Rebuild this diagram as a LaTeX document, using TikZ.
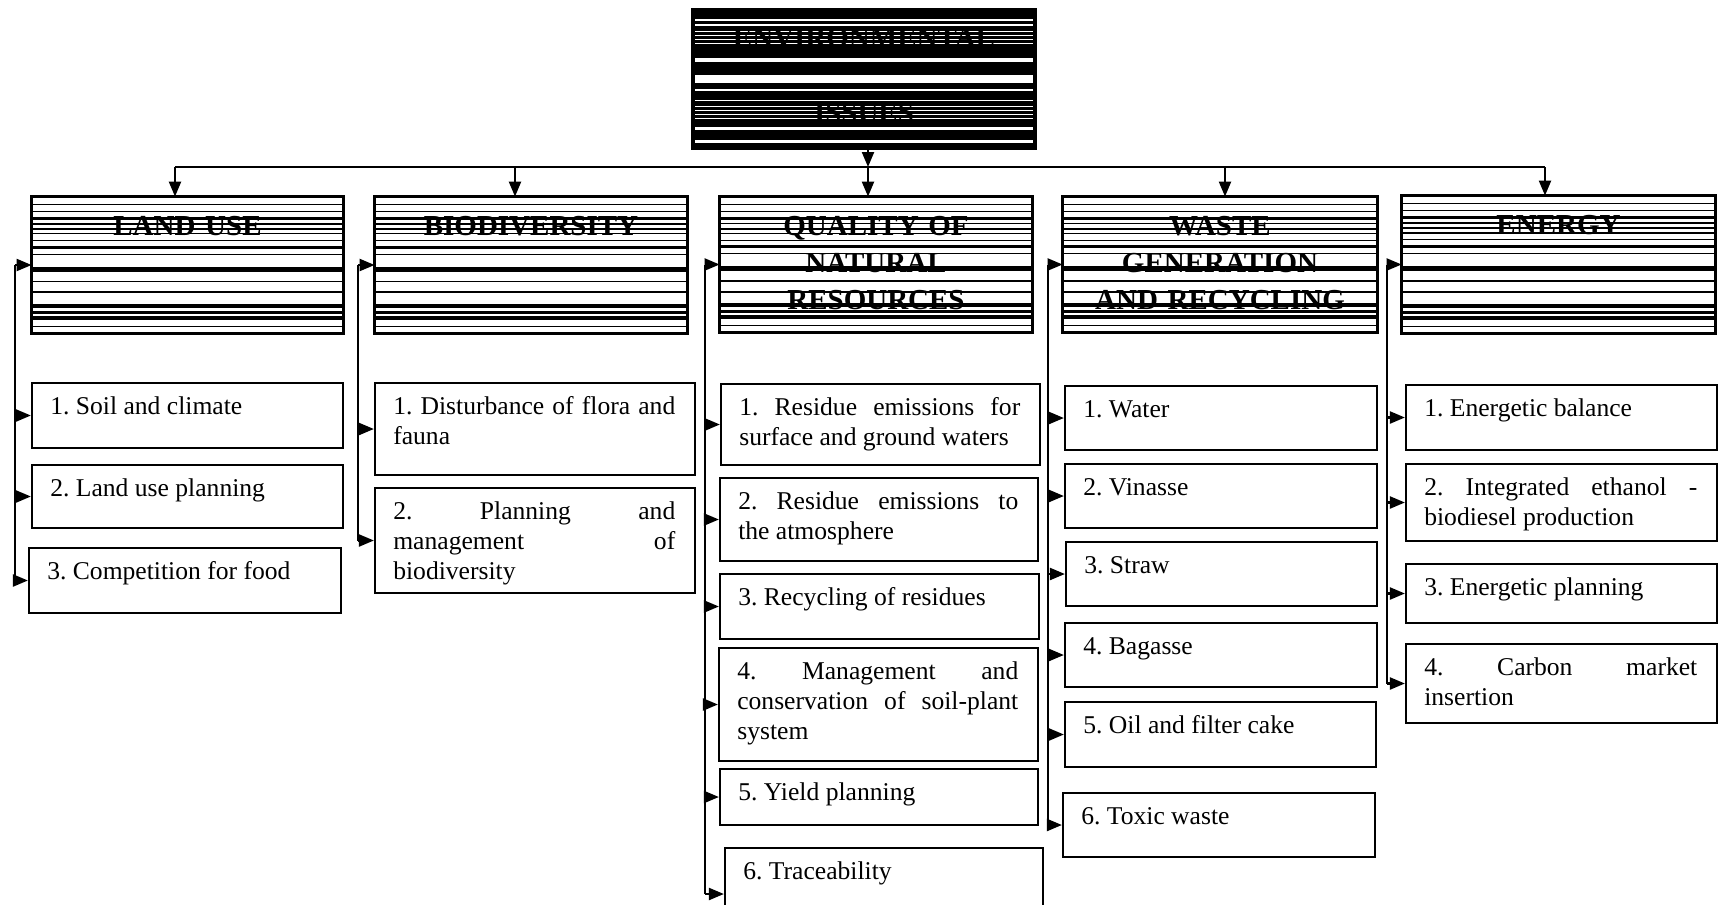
\documentclass[tikz,border=0pt]{standalone}
\usepackage{fontspec}
\setmainfont{Liberation Serif}
\usetikzlibrary{arrows.meta,fit,calc}
\hyphenpenalty=10000
\exhyphenpenalty=10000
\frenchspacing
\tikzset{
  itembox/.style={draw=black, line width=1.1pt, inner sep=0pt},
  itemtext/.style={inner sep=0pt, align=justify, font=\fontsize{12.8pt}{15pt}\selectfont\frenchspacing, anchor=base west},
  hdrtext/.style={inner sep=0pt, align=center, text width=160pt, font=\fontsize{14.5pt}{18.5pt}\selectfont\bfseries, anchor=base},
  conn/.style={line width=1.1pt},
  arr/.style={line width=1.1pt, -{Triangle[length=7.5pt,width=6pt]}},
}
\newcommand\hstripelist{0.06/0.5,0.11/0.7,0.16/1.5,0.20/0.7,0.235/1,0.27/0.7,0.32/0.5,0.37/1.5,0.42/0.5,0.53/2.5,0.62/0.7,0.70/1,0.80/2,0.845/1.5,0.885/2,0.95/0.5}
% name, x1, y1, x2, y2, text
\newcommand\itemnode[6]{%
  \node[itembox, fit={(#2,#3) (#4,#5)}] (#1) {};
  \pgfmathsetmacro\tw{(#4-#2-38)*0.5}%
  \node[itemtext, text width=\tw pt] (#1t) at ([shift={(19,33)}]#1.north west) {#6};
}
\newcommand\hdrnode[6]{%
  \node[inner sep=0pt, fit={(#2,#3) (#4,#5)}] (#1) {};
  \begin{scope}
    \clip (#2,#3) rectangle (#4,#5);
    \foreach \f/\w in \hstripelist {
      \draw[line width=\w pt] ($(#1.north west)!\f!(#1.south west)$) -- ($(#1.north east)!\f!(#1.south east)$);
    }
  \end{scope}
  \draw[line width=1.5pt] (#1.north west) rectangle (#1.south east);
  \node[hdrtext] (#1t) at ([shift={(0,39)}]#1.north) {#6};
}
\begin{document}
\begin{tikzpicture}[x=0.5pt,y=-0.5pt]
\path[use as bounding box] (0,0) rectangle (1719,905);
\clip (0,0) rectangle (1719,905);
\fill[white] (0,0) rectangle (1719,905);

% top box
\node[inner sep=0pt, fit={(693,10) (1035,148)}] (env) {};
\fill[black] (env.north west) rectangle (env.south east);
\foreach \yy/\w in {20/0.7,25/1,31/0.5,35/0.5,39/0.5,43/0.5,60/2,79/4,90/1,100/0.5,106/0.5,110/0.5,114/0.5,118/0.5,128/1.5,141/1.5} {
  \draw[white, line width=\w pt] (695,\yy) -- (1033,\yy);
}
\draw[line width=1.5pt] (env.north west) rectangle (env.south east);
\node[hdrtext, font=\fontsize{14.5pt}{37.5pt}\selectfont\bfseries, text=black] (envt) at ([shift={(0,37.5)}]env.north) {ENVIRONMENTAL\\ ISSUES};

% headers
\hdrnode{lu}{32}{197}{343}{333}{LAND USE}
\hdrnode{bio}{375}{197}{687}{333}{BIODIVERSITY}
\hdrnode{q}{720}{197}{1032}{332}{QUALITY OF\\ NATURAL\\ RESOURCES}
\hdrnode{w}{1063}{197}{1377}{332}{WASTE\\ GENERATION\\ AND RECYCLING}
\hdrnode{e}{1402}{196}{1715}{333}{ENERGY}

% bus
\coordinate (bus) at (868,167);
\coordinate (luin) at ([shift={(-12.5,0)}]lu.north);
\coordinate (bioin) at ([shift={(-16,0)}]bio.north);
\coordinate (qin) at ([shift={(-8,0)}]q.north);
\coordinate (win) at ([shift={(5,0)}]w.north);
\coordinate (ein) at ([shift={(-13.5,0)}]e.north);
\draw[arr] (env.south -| bus) -- (bus);
\draw[conn] (bus -| luin) -- (bus -| ein);
\foreach \n in {luin,bioin,qin,win,ein} { \draw[arr] (bus -| \n) -- (\n); }

% items
\itemnode{lu1}{32}{383}{343}{448}{1. Soil and climate}
\itemnode{lu2}{32}{465}{343}{528}{2. Land use planning}
\itemnode{lu3}{29}{548}{341}{613}{3. Competition for food}

\itemnode{bio1}{375}{383}{695}{475}{1. Disturbance of flora and\linebreak fauna}
\itemnode{bio2}{375}{488}{695}{593}{2. Planning and\linebreak management of\linebreak biodiversity}

\itemnode{q1}{721}{384}{1040}{465}{1. Residue emissions for\linebreak surface and ground waters}
\itemnode{q2}{720}{478}{1038}{561}{2. Residue emissions to\linebreak the atmosphere}
\itemnode{q3}{720}{574}{1039}{639}{3. Recycling of residues}
\itemnode{q4}{719}{648}{1038}{761}{4. Management and\linebreak conservation of soil-plant\linebreak system}
\itemnode{q5}{720}{769}{1038}{825}{5. Yield planning}
\itemnode{q6}{725}{848}{1043}{940}{6. Traceability}

\itemnode{w1}{1065}{386}{1377}{450}{1. Water}
\itemnode{w2}{1065}{464}{1377}{528}{2. Vinasse}
\itemnode{w3}{1066}{542}{1377}{606}{3. Straw}
\itemnode{w4}{1065}{623}{1377}{687}{4. Bagasse}
\itemnode{w5}{1065}{702}{1376}{767}{5. Oil and filter cake}
\itemnode{w6}{1063}{793}{1375}{857}{6. Toxic waste}

\itemnode{e1}{1406}{385}{1717}{450}{1. Energetic balance}
\itemnode{e2}{1406}{464}{1717}{541}{2. Integrated ethanol -\linebreak biodiesel production}
\itemnode{e3}{1406}{564}{1717}{623}{3. Energetic planning}
\itemnode{e4}{1406}{644}{1717}{723}{4. Carbon market\linebreak insertion}

% spines
\coordinate (lus) at (15,0);
\coordinate (bios) at (358,0);
\coordinate (qs) at (705,0);
\coordinate (ws) at (1048,0);
\coordinate (es) at (1387,0);
\draw[conn] (lus |- lu.west) -- (lus |- lu3.west);
\draw[conn] (bios |- bio.west) -- (bios |- bio2.west);
\draw[conn] (qs |- q.west) -- (qs |- q6.west);
\draw[conn] (ws |- w.west) -- (ws |- w6.west);
\draw[conn] (es |- e.west) -- (es |- e4.west);
\foreach \n in {lu,lu1,lu2,lu3} { \draw[arr] (lus |- \n.west) -- (\n.west); }
\foreach \n in {bio,bio1,bio2} { \draw[arr] (bios |- \n.west) -- (\n.west); }
\foreach \n in {q,q1,q2,q3,q4,q5,q6} { \draw[arr] (qs |- \n.west) -- (\n.west); }
\foreach \n in {w,w1,w2,w3,w4,w5,w6} { \draw[arr] (ws |- \n.west) -- (\n.west); }
\foreach \n in {e,e1,e2,e3,e4} { \draw[arr] (es |- \n.west) -- (\n.west); }
\end{tikzpicture}
\end{document}
